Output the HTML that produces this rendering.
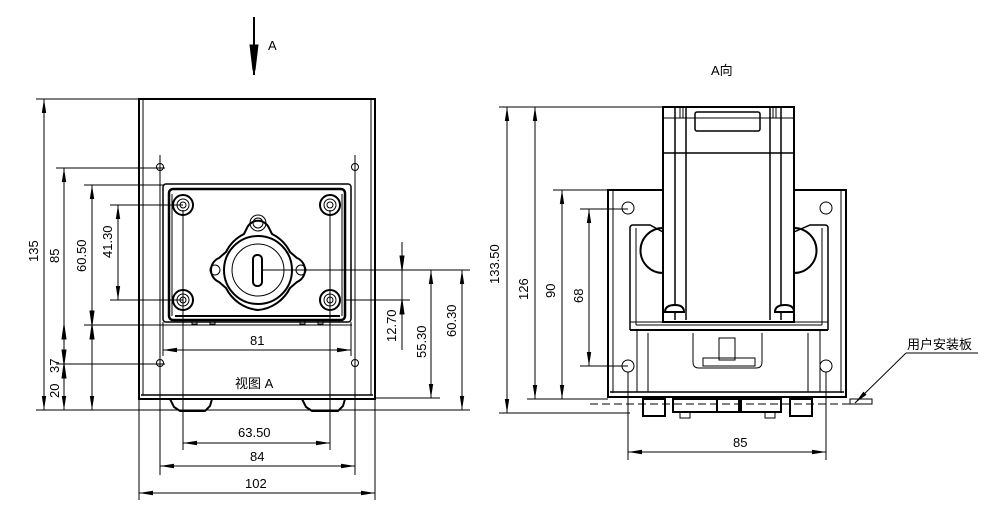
<!DOCTYPE html>
<html><head><meta charset="utf-8"><style>
html,body{margin:0;padding:0;background:#fff;}
svg{display:block;}
text{font-family:"Liberation Sans","Noto Sans CJK SC",sans-serif;font-size:13px;fill:#000;}
</style></head><body>
<svg width="990" height="512" viewBox="0 0 990 512" xmlns="http://www.w3.org/2000/svg">
<defs>
<marker id="a" viewBox="0 0 14 6" refX="14" refY="3" markerWidth="14" markerHeight="6" markerUnits="userSpaceOnUse" orient="auto-start-reverse"><path d="M0,0.8 L14,3 L0,5.2 Z" fill="#000"/></marker>
</defs>
<g stroke="#000" fill="none" stroke-width="1">
<!-- top arrow A -->
<line x1="254" y1="17" x2="254" y2="75" stroke-width="2"/>
<path d="M250,45 L258,45 L255,70 L253,70 Z" fill="#000"/>

<!-- LEFT VIEW body -->
<rect x="139" y="99" width="236" height="300" stroke-width="2"/>
<line x1="143" y1="99" x2="143" y2="395"/>
<line x1="371" y1="99" x2="371" y2="395"/>
<line x1="141" y1="395" x2="373" y2="395" stroke-width="1.5"/>
<path d="M170,399 L174,407 L180,411 L205,411 L210,406 L212,399" stroke-width="2"/>
<path d="M302,399 L306,407 L312,411 L338,411 L343,406 L345,399" stroke-width="2"/>
<!-- mount holes -->
<g>
<circle cx="160" cy="167" r="3.5"/><circle cx="355" cy="167" r="3.5"/>
<circle cx="160" cy="363" r="3.5"/><circle cx="355" cy="363" r="3.5"/>
</g>
<!-- head plate -->
<rect x="163" y="184" width="188" height="138" rx="3" stroke-width="1.5"/>
<rect x="169" y="189" width="176" height="131" rx="4" stroke-width="2.5"/>
<line x1="172" y1="194" x2="172" y2="316"/>
<line x1="342" y1="194" x2="342" y2="316"/>
<line x1="175" y1="316" x2="340" y2="316" stroke-width="2"/>
<rect x="192" y="320" width="5" height="4"/><rect x="210" y="320" width="5" height="4"/>
<rect x="300" y="320" width="5" height="4"/><rect x="318" y="320" width="5" height="4"/>
<!-- screws -->
<g stroke-width="2">
<circle cx="183" cy="205" r="10"/><circle cx="330" cy="205" r="10"/>
<circle cx="183" cy="300" r="10"/><circle cx="330" cy="300" r="10"/>
</g>
<g>
<circle cx="183" cy="205" r="6"/><circle cx="330" cy="205" r="6"/>
<circle cx="183" cy="300" r="6"/><circle cx="330" cy="300" r="6"/>
<circle cx="183" cy="205" r="3"/><circle cx="330" cy="205" r="3"/>
<circle cx="183" cy="300" r="3"/><circle cx="330" cy="300" r="3"/>
</g>
<!-- rotor flange -->
<path d="M247,228 A12,12 0 0 1 269,228 L272,234 A40,40 0 0 1 290,252 L297,258 A13,13 0 0 1 297,282 L290,288 A40,40 0 0 1 258,310 A40,40 0 0 1 226,288 L219,282 A13,13 0 0 1 219,258 L226,252 A40,40 0 0 1 244,234 Z" stroke-width="2"/>
<circle cx="258" cy="270" r="34" stroke-width="2"/>
<circle cx="258" cy="270" r="26"/>
<circle cx="258" cy="223" r="8"/><circle cx="258" cy="223" r="5"/>
<circle cx="215" cy="270" r="5"/><circle cx="301" cy="270" r="5"/>
<rect x="253" y="255" width="9" height="31" rx="4" stroke-width="2"/>

<!-- left dims -->
<g>
<line x1="36" y1="99" x2="139" y2="99"/>
<line x1="36" y1="410" x2="470" y2="410"/>
<line x1="56" y1="168" x2="165" y2="168"/>
<line x1="84" y1="185" x2="165" y2="185"/>
<line x1="110" y1="205" x2="183" y2="205"/>
<line x1="110" y1="300" x2="183" y2="300"/>
<line x1="84" y1="325" x2="352" y2="325"/>
<line x1="56" y1="364" x2="165" y2="364"/>
<line x1="44" y1="99" x2="44" y2="410" marker-start="url(#a)" marker-end="url(#a)"/>
<line x1="64" y1="168" x2="64" y2="410" marker-start="url(#a)" marker-end="url(#a)"/>
<line x1="92" y1="185" x2="92" y2="410" marker-start="url(#a)" marker-end="url(#a)"/>
<line x1="118" y1="205" x2="118" y2="300" marker-start="url(#a)" marker-end="url(#a)"/>
<path d="M64,325 l-2,14 l4,0 Z M64,364 l-2,-14 l4,0 Z M64,364 l-2,14 l4,0 Z M92,325 l-2,-14 l4,0 Z M92,325 l-2,14 l4,0 Z" fill="#000"/>
<!-- vertical ext lines -->
<line x1="160" y1="155" x2="160" y2="475"/>
<line x1="355" y1="155" x2="355" y2="475"/>
<line x1="183" y1="210" x2="183" y2="450"/>
<line x1="330" y1="210" x2="330" y2="450"/>
<line x1="163" y1="322" x2="163" y2="356"/>
<line x1="351" y1="322" x2="351" y2="356"/>
<line x1="139" y1="399" x2="139" y2="500"/>
<line x1="375" y1="399" x2="375" y2="500"/>
<line x1="163" y1="350" x2="351" y2="350" marker-start="url(#a)" marker-end="url(#a)"/>
<line x1="183" y1="443" x2="330" y2="443" marker-start="url(#a)" marker-end="url(#a)"/>
<line x1="160" y1="466" x2="355" y2="466" marker-start="url(#a)" marker-end="url(#a)"/>
<line x1="139" y1="493" x2="375" y2="493" marker-start="url(#a)" marker-end="url(#a)"/>
<!-- right side dims -->
<line x1="262" y1="270" x2="470" y2="270"/>
<line x1="345" y1="300" x2="410" y2="300"/>
<line x1="375" y1="398" x2="440" y2="398"/>
<line x1="402" y1="242" x2="402" y2="350"/>
<path d="M402,270 l-2,-14 l4,0 Z M402,300 l-2,14 l4,0 Z" fill="#000"/>
<line x1="431" y1="270" x2="431" y2="398" marker-start="url(#a)" marker-end="url(#a)"/>
<line x1="462" y1="270" x2="462" y2="410" marker-start="url(#a)" marker-end="url(#a)"/>
</g>

<!-- RIGHT VIEW -->
<g>
<!-- bracket -->
<rect x="608" y="190" width="238" height="207" stroke-width="2"/>
<line x1="613" y1="190" x2="613" y2="393"/>
<line x1="841" y1="190" x2="841" y2="393"/>
<line x1="610" y1="392" x2="844" y2="392" stroke-width="1.5"/>
<circle cx="628" cy="208" r="6"/><circle cx="826" cy="208" r="6"/>
<circle cx="628" cy="366" r="6"/><circle cx="826" cy="366" r="6"/>
<path d="M630,330 L630,228 Q630,225 633,225 L650,225 L663,232" stroke-width="1.5"/>
<path d="M828,330 L828,228 Q828,225 825,225 L810,225 L794,232" stroke-width="1.5"/>
<line x1="636" y1="228" x2="636" y2="325"/>
<line x1="822" y1="228" x2="822" y2="325"/>
<path d="M663,228 A22,22 0 0 0 663,273" stroke-width="2"/>
<path d="M794,228 A22,22 0 0 1 794,273" stroke-width="2"/>
<line x1="630" y1="330" x2="828" y2="330" stroke-width="2"/>
<line x1="636" y1="325" x2="822" y2="325"/>
<line x1="637" y1="330" x2="637" y2="392"/>
<line x1="648" y1="333" x2="648" y2="392"/>
<line x1="820" y1="330" x2="820" y2="392"/>
<line x1="808" y1="333" x2="808" y2="392"/>
<path d="M693,333 L693,362 Q693,368 699,368 L756,368 Q762,368 762,362 L762,333"/>
<rect x="719" y="338" width="16" height="22"/>
<rect x="703" y="358" width="52" height="8"/>
<!-- motor -->
<rect x="663" y="107" width="131" height="215" fill="#fff" stroke-width="2"/>
<line x1="675" y1="107" x2="675" y2="320" stroke-width="1.5"/>
<line x1="686" y1="107" x2="686" y2="320" stroke-width="1.5"/>
<line x1="770" y1="107" x2="770" y2="320" stroke-width="1.5"/>
<line x1="781" y1="107" x2="781" y2="320" stroke-width="1.5"/>
<line x1="663" y1="118" x2="794" y2="118"/>
<line x1="663" y1="153" x2="794" y2="153" stroke-width="1.5"/>
<rect x="695" y="112" width="65" height="19" rx="2" stroke-width="1.5"/>
<rect x="680" y="107" width="3" height="11"/><rect x="773" y="107" width="3" height="11"/>
<path d="M665,312 Q665,305 675,305 Q684,305 684,312 Z" fill="#fff" stroke-width="2"/>
<path d="M775,312 Q775,305 785,305 Q794,305 794,312 Z" fill="#fff" stroke-width="2"/>
<line x1="630" y1="322" x2="828" y2="322"/>
<!-- bottom connectors -->
<line x1="590" y1="404" x2="855" y2="404" stroke-dasharray="8,4"/>
<rect x="850" y="399" width="22" height="5"/>
<rect x="643" y="399" width="22" height="17" stroke-width="2"/>
<rect x="673" y="399" width="44" height="13" stroke-width="2"/>
<rect x="717" y="399" width="22" height="13" stroke-width="2"/>
<rect x="741" y="399" width="40" height="13" stroke-width="2"/>
<rect x="790" y="399" width="22" height="17" stroke-width="2"/>
<rect x="680" y="412" width="10" height="6"/><rect x="765" y="412" width="10" height="6"/>
<!-- leader -->
<line x1="906" y1="353" x2="855" y2="403" marker-end="url(#a)"/>
<line x1="906" y1="353" x2="978" y2="353"/>
<!-- dims -->
<line x1="499" y1="107" x2="663" y2="107"/>
<line x1="499" y1="413" x2="630" y2="413"/>
<line x1="527" y1="399" x2="608" y2="399"/>
<line x1="553" y1="190" x2="608" y2="190"/>
<line x1="580" y1="209" x2="628" y2="209"/>
<line x1="580" y1="366" x2="628" y2="366"/>
<line x1="507" y1="107" x2="507" y2="413" marker-start="url(#a)" marker-end="url(#a)"/>
<line x1="535" y1="107" x2="535" y2="399" marker-start="url(#a)" marker-end="url(#a)"/>
<line x1="562" y1="190" x2="562" y2="399" marker-start="url(#a)" marker-end="url(#a)"/>
<line x1="589" y1="209" x2="589" y2="366" marker-start="url(#a)" marker-end="url(#a)"/>
<line x1="628" y1="372" x2="628" y2="460"/>
<line x1="826" y1="372" x2="826" y2="460"/>
<line x1="628" y1="452" x2="826" y2="452" marker-start="url(#a)" marker-end="url(#a)"/>
</g>
</g>

<g>
<text x="268" y="50" font-size="11">A</text>
<text x="711" y="75" font-size="12">A向</text>
<text x="235" y="388" font-size="12">视图 A</text>
<text x="250" y="345">81</text>
<text x="238" y="437">63.50</text>
<text x="250" y="461">84</text>
<text x="245" y="488">102</text>
<text x="733" y="447">85</text>
<text x="907" y="349" font-size="12">用户安装板</text>
<text transform="translate(38,262) rotate(-90)">135</text>
<text transform="translate(59,263) rotate(-90)">85</text>
<text transform="translate(86,272) rotate(-90)">60.50</text>
<text transform="translate(112,258) rotate(-90)">41.30</text>
<text transform="translate(59,373) rotate(-90)">37</text>
<text transform="translate(59,398) rotate(-90)">20</text>
<text transform="translate(396,342) rotate(-90)">12.70</text>
<text transform="translate(426,358) rotate(-90)">55.30</text>
<text transform="translate(456,337) rotate(-90)">60.30</text>
<text transform="translate(499,284) rotate(-90)">133.50</text>
<text transform="translate(528,300) rotate(-90)">126</text>
<text transform="translate(555,298) rotate(-90)">90</text>
<text transform="translate(583,303) rotate(-90)">68</text>
</g>
</svg>
</body></html>
